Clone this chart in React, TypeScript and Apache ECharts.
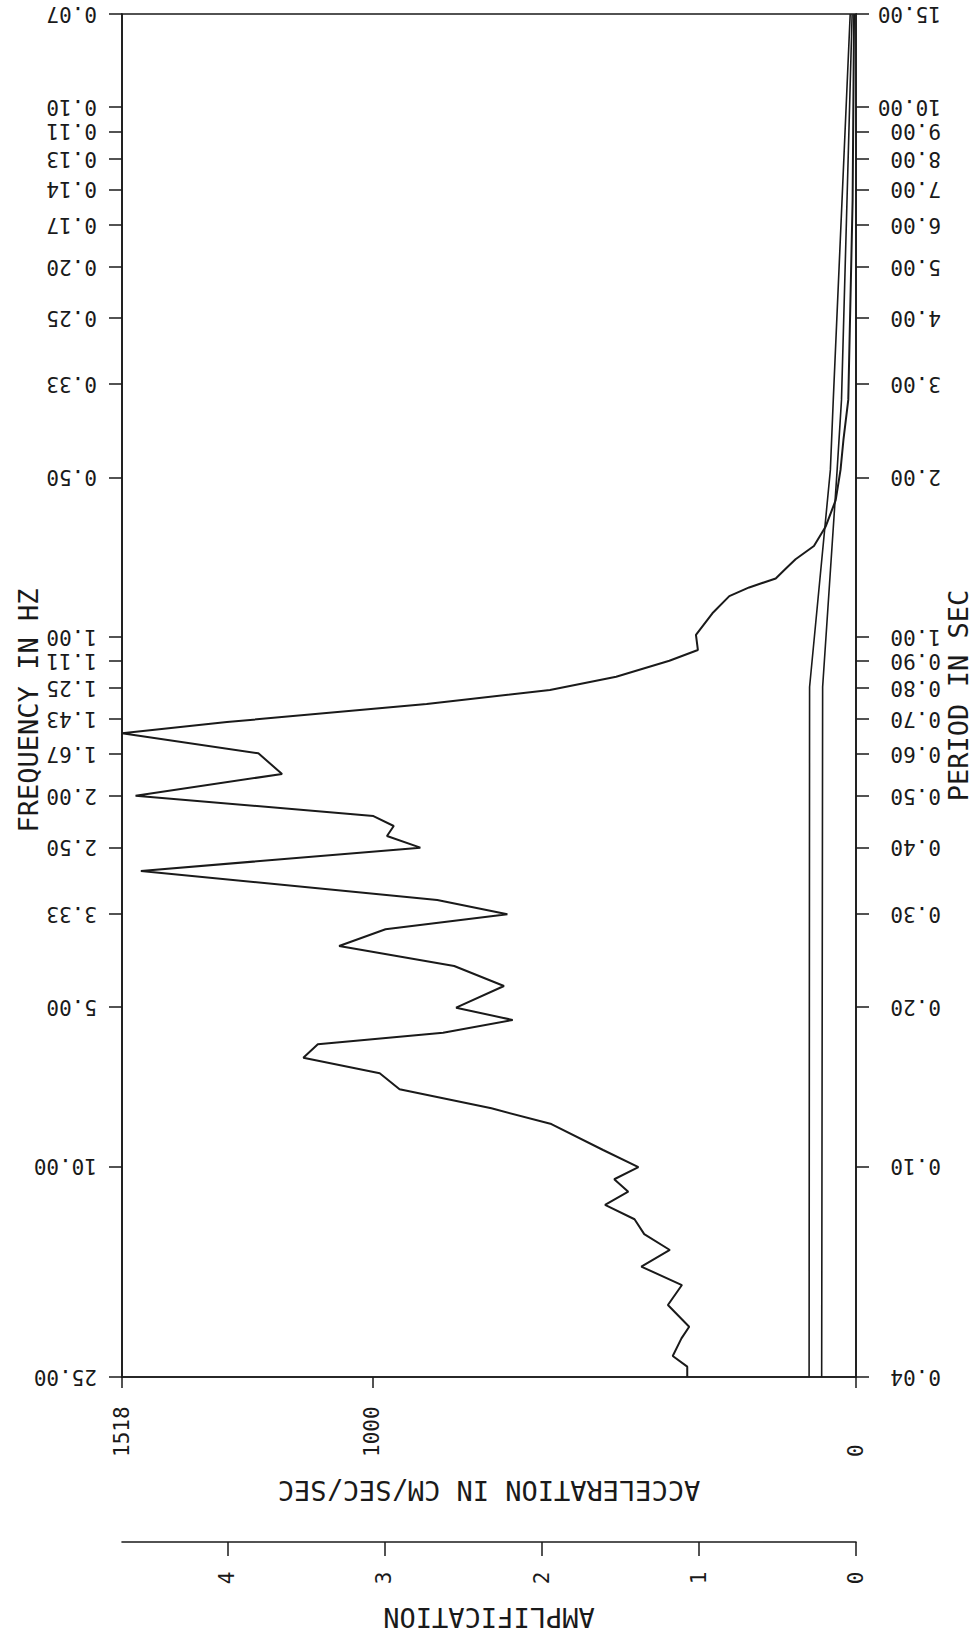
import React, { useEffect, useRef } from "react";
import * as echarts from "echarts";

// Tick positions are given as periods (sec); frequency = 1 / period
const periodTicks = [15, 10, 9, 8, 7, 6, 5, 4, 3, 2, 1, 0.9, 0.8, 0.7, 0.6, 0.5, 0.4, 0.3, 0.2, 0.1, 0.04];
const frequencyLabels = ["0.07", "0.10", "0.11", "0.13", "0.14", "0.17", "0.20", "0.25", "0.33", "0.50", "1.00", "1.11", "1.25", "1.43", "1.67", "2.00", "2.50", "3.33", "5.00", "10.00", "25.00"];
const periodLabels = ["15.00", "10.00", "9.00", "8.00", "7.00", "6.00", "5.00", "4.00", "3.00", "2.00", "1.00", "0.90", "0.80", "0.70", "0.60", "0.50", "0.40", "0.30", "0.20", "0.10", "0.04"];

const freqMin = 1 / 15;
const freqMax = 25;

const accelTicks = [0, 1000, 1518];
const accelMax = 1518;
const amplificationTicks = [0, 1, 2, 3, 4];
const amplificationMax = 4.67;

// Main acceleration response spectrum (frequency Hz, acceleration cm/sec/sec)
const spectrumFreq = [
  0.0667, 0.150, 0.357, 0.425, 0.484, 0.552, 0.620, 0.674, 0.714, 0.743, 0.776, 0.807, 0.838, 0.903, 0.992,
  1.059, 1.110, 1.190, 1.260, 1.340, 1.449, 1.522, 1.660, 1.816, 1.996, 2.181, 2.277, 2.378, 2.502, 2.769,
  3.141, 3.343, 3.568, 3.837, 4.186, 4.566, 5.017, 5.293, 5.593, 5.885, 6.236, 6.673, 7.154, 7.772, 8.322,
  9.316, 10.04, 10.58, 11.17, 11.83, 12.59, 13.43, 14.39, 15.47, 16.76, 18.28, 20.09, 21.13, 22.82, 23.90, 25.0,
];
const spectrumAccel = [
  4, 7, 16, 26, 32, 42, 63, 87, 125, 145, 166, 221, 262, 297, 331,
  327, 386, 496, 633, 888, 1301, 1518, 1236, 1187, 1490, 998, 956, 970, 901, 1479,
  866, 721, 973, 1069, 831, 728, 827, 710, 854, 1113, 1143, 985, 944, 754, 630,
  523, 450, 500, 471, 519, 458, 438, 385, 444, 360, 389, 345, 361, 379, 349, 349,
];

// Two smooth reference curves near the right axis
const curveBFreq = [0.0667, 0.357, 0.484, 1.244, 25];
const curveBAccel = [12, 47, 53, 96, 97];
const curveCFreq = [0.0667, 0.357, 0.484, 1.244, 25];
const curveCAccel = [8, 30, 39, 69, 71];

export default function App() {
  const ref = useRef<HTMLDivElement>(null);

  useEffect(() => {
    if (!ref.current) return;
    const chart = echarts.init(ref.current, null, { renderer: "svg" });
    const lg = (v: number) => Math.log10(v);
    const tickVals = periodTicks.map((p) => lg(1 / p));
    const labelFor = (labels: string[]) => (v: number) => {
      let best = 0;
      let d = Infinity;
      tickVals.forEach((t, i) => {
        const dd = Math.abs(t - v);
        if (dd < d) {
          d = dd;
          best = i;
        }
      });
      return labels[best];
    };
    const font = "DejaVu Sans Mono";
    const ink = "#1a1a1a";
    const tickFont = { fontSize: 21, fontFamily: font, color: ink };
    const nameFont = { fontSize: 27, fontFamily: font, color: ink };

    const toSeries = (fr: number[], ac: number[]) => fr.map((f, i) => [ac[i], lg(f)]);

    const yCommon: any = {
      type: "value",
      gridIndex: 0,
      min: lg(freqMin),
      max: lg(freqMax),
      inverse: true,
      splitLine: { show: false },
      axisLine: { show: true, onZero: false, lineStyle: { color: ink, width: 1.6 } },
      axisTick: { show: true, inside: false, length: 13, customValues: tickVals, lineStyle: { color: ink, width: 1.5 } },
      nameLocation: "middle",
      nameRotate: 90,
      nameMoveOverlap: false,
    };

    const option: any = {
      animation: false,
      backgroundColor: "#ffffff",
      grid: [
        { left: 122, top: 14, width: 734, height: 1363, show: true, borderColor: ink, borderWidth: 1.6, backgroundColor: "transparent", containLabel: false, outerBoundsMode: "none" },
        { left: 122, top: 1532, width: 734, height: 10, show: false, containLabel: false, outerBoundsMode: "none" },
      ],
      xAxis: [
        {
          type: "value",
          gridIndex: 0,
          min: 0,
          max: accelMax,
          inverse: true,
          position: "bottom",
          splitLine: { show: false },
          axisLine: { show: true, onZero: false, lineStyle: { color: ink, width: 1.6 } },
          axisTick: { show: true, length: 11, customValues: accelTicks, lineStyle: { color: ink, width: 1.5 } },
          axisLabel: { customValues: accelTicks, rotate: 90, align: "left", margin: 80, ...tickFont, formatter: (v: number) => String(Math.round(v)) },
          name: "ACCELERATION IN CM/SEC/SEC",
          nameLocation: "middle",
          nameRotate: 180,
          nameGap: 100,
          nameMoveOverlap: false,
          nameTextStyle: nameFont,
        },
        {
          type: "value",
          gridIndex: 1,
          min: 0,
          max: amplificationMax,
          inverse: true,
          position: "bottom",
          splitLine: { show: false },
          axisLine: { show: true, onZero: false, lineStyle: { color: ink, width: 1.6 } },
          axisTick: { show: true, length: 14, customValues: amplificationTicks, lineStyle: { color: ink, width: 1.5 } },
          axisLabel: { customValues: amplificationTicks, rotate: 90, align: "center", margin: 36, ...tickFont, formatter: (v: number) => String(Math.round(v)) },
          name: "AMPLIFICATION",
          nameLocation: "middle",
          nameRotate: 180,
          nameGap: 62,
          nameMoveOverlap: false,
          nameTextStyle: nameFont,
        },
      ],
      yAxis: [
        {
          ...yCommon,
          position: "left",
          axisLabel: { customValues: tickVals, rotate: 180, margin: 25, ...tickFont, formatter: labelFor(frequencyLabels) },
          name: "FREQUENCY IN HZ",
          nameGap: 80,
          nameTextStyle: { ...nameFont, padding: [0, 30, 0, 0] },
        },
        {
          ...yCommon,
          position: "right",
          axisLabel: { customValues: tickVals, rotate: 180, align: "left", margin: 85, ...tickFont, formatter: labelFor(periodLabels) },
          name: "PERIOD IN SEC",
          nameGap: 89,
          nameTextStyle: nameFont,
        },
        {
          type: "value",
          gridIndex: 1,
          min: 0,
          max: 1,
          show: false,
          splitLine: { show: false },
        },
      ],
      series: [
        {
          type: "line",
          xAxisIndex: 0,
          yAxisIndex: 0,
          data: toSeries(spectrumFreq, spectrumAccel),
          showSymbol: false,
          symbol: "none",
          lineStyle: { color: ink, width: 2 },
        },
        {
          type: "line",
          xAxisIndex: 0,
          yAxisIndex: 0,
          data: toSeries(curveBFreq, curveBAccel),
          showSymbol: false,
          symbol: "none",
          lineStyle: { color: ink, width: 1.6 },
        },
        {
          type: "line",
          xAxisIndex: 0,
          yAxisIndex: 0,
          data: toSeries(curveCFreq, curveCAccel),
          showSymbol: false,
          symbol: "none",
          lineStyle: { color: ink, width: 1.6 },
        },
      ],
    };
    chart.setOption(option);
    return () => chart.dispose();
  }, []);

  return (
    <div
      ref={ref}
      style={{ position: "absolute", left: 0, top: 0, width: 978, height: 1637, background: "#fff" }}
    />
  );
}
